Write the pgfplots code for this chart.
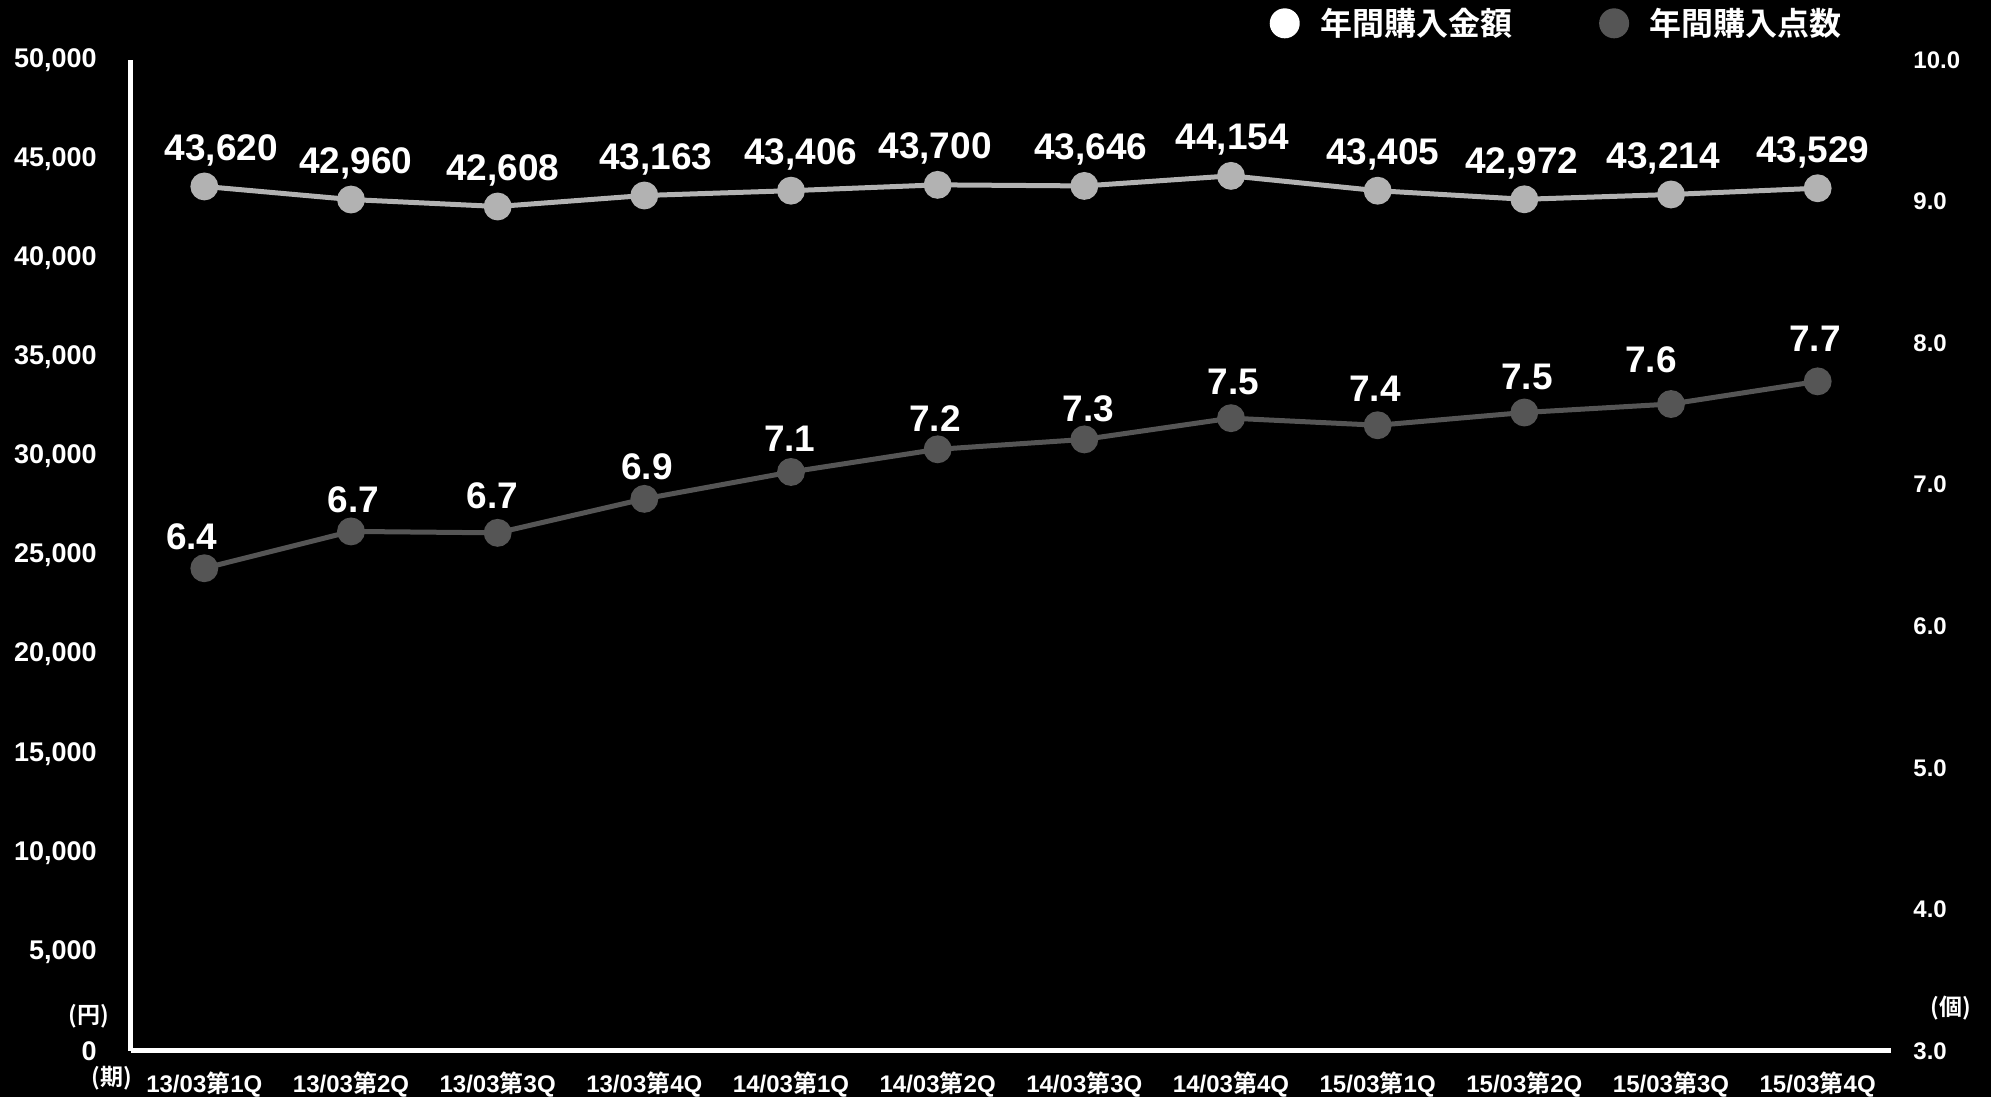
\documentclass[border=0pt]{standalone}
\usepackage{pgfplots}
\usepackage{pgfplotstable}
\pgfplotsset{compat=1.18}
\usepackage{fontspec}
\setmainfont{Liberation Sans}
\newfontfamily\cjk{Noto Sans CJK JP}[BoldFont={Noto Sans CJK JP Bold}]
\definecolor{lightline}{RGB}{178,178,178}
\definecolor{darkline}{RGB}{85,85,85}

\pgfplotstableread{
x y lab xo
0 43620 {43,620} 8.5
1 42960 {42,960} 2.5
2 42608 {42,608} 2.5
3 43163 {43,163} 5.7
4 43406 {43,406} 5
5 43700 {43,700} -1.3
6 43646 {43,646} 3.2
7 44154 {44,154} 0.6
8 43405 {43,405} 2.5
9 42972 {42,972} -1.3
10 43214 {43,214} -3.8
11 43529 {43,529} -2.5
}\amountdata

\pgfplotstableread{
x y lab off xo
0 6.41 6.4 9.5 -6.3
1 6.67 6.7 9.5 1.3
2 6.66 6.7 12 -2.5
3 6.90 6.9 9.5 1.3
4 7.09 7.1 10 -0.6
5 7.25 7.2 9 -1.3
6 7.32 7.3 9 1.9
7 7.47 7.5 12 1.3
8 7.42 7.4 12 -1.3
9 7.51 7.5 11.5 1.3
10 7.57 7.6 16 -10
11 7.73 7.7 15 -1.3
}\countdata

\begin{document}
\begin{tikzpicture}
\fill[black] (-65.5pt,-23pt) rectangle (930pt,525.5pt);
\useasboundingbox (-65.5pt,-23pt) rectangle (930pt,525.5pt);
\begin{axis}[
  at={(0pt,0pt)}, anchor=south west,
  scale only axis, width=880pt, height=495.5pt,
  xmin=-0.5, xmax=11.5, ymin=0, ymax=50000,
  axis x line=bottom, axis y line=left,
  axis line style={white, line width=2.5pt, -},
  major tick length=0pt,
  xtick={0,...,11},
  xticklabels={13/03{\cjk 第}1Q,13/03{\cjk 第}2Q,13/03{\cjk 第}3Q,13/03{\cjk 第}4Q,
               14/03{\cjk 第}1Q,14/03{\cjk 第}2Q,14/03{\cjk 第}3Q,14/03{\cjk 第}4Q,
               15/03{\cjk 第}1Q,15/03{\cjk 第}2Q,15/03{\cjk 第}3Q,15/03{\cjk 第}4Q},
  xticklabel style={text=white, font=\bfseries\fontsize{12}{14}\selectfont, anchor=north, inner sep=0pt, yshift=-10.5pt},
  ytick={0,5000,...,50000},
  scaled y ticks=false,
  yticklabel style={text=white, font=\bfseries\fontsize{13.5}{15}\selectfont, anchor=east, inner sep=0pt, xshift=-17pt},
  /pgf/number format/1000 sep={,},
  /pgf/number format/assume math mode=true,
  clip=false,
  legend columns=2,
  legend style={at={(rel axis cs:0.647,1.037)}, anchor=west, draw=none, fill=none, text=white,
    font=\cjk\bfseries\fontsize{16}{18}\selectfont, inner sep=0pt, outer sep=0pt,
    /tikz/every even column/.append style={column sep=41.4pt}},
]
\addplot[lightline, line width=2.5pt, mark=*, mark size=5.7pt,
  mark options={fill=lightline, draw=none},
  point meta=explicit symbolic, nodes near coords,
  visualization depends on={\thisrow{xo} \as \labelxo},
  every node near coord/.append style={text=white, font=\bfseries\fontsize{18.5}{20}\selectfont, anchor=base, inner sep=0pt, yshift=13pt, xshift=\labelxo pt},
  forget plot] table[x=x, y=y, meta=lab] {\amountdata};
\addlegendimage{draw=none, legend image code/.code={\fill[white, draw=none] (7.5pt,0pt) circle (7.5pt); \path[draw=none, fill=none] (0pt,0pt) rectangle (23.3pt,0.1pt);}}
\addlegendentry{年間購入金額}
\addlegendimage{draw=none, legend image code/.code={\fill[darkline, draw=none] (7.5pt,0pt) circle (7.5pt); \path[draw=none, fill=none] (0pt,0pt) rectangle (23.3pt,0.1pt);}}
\addlegendentry{年間購入点数}
\end{axis}
\begin{axis}[
  at={(0pt,0pt)}, anchor=south west,
  scale only axis, width=880pt, height=495.5pt,
  xmin=-0.5, xmax=11.5, ymin=3, ymax=10,
  axis y line=right, axis x line=none,
  axis line style={draw=none},
  major tick length=0pt,
  xtick=\empty,
  ytick={3,...,10},
  yticklabel style={text=white, font=\bfseries\fontsize{12}{14}\selectfont, anchor=west, inner sep=0pt, xshift=11pt},
  /pgf/number format/fixed,
  /pgf/number format/fixed zerofill,
  /pgf/number format/precision=1,
  /pgf/number format/assume math mode=true,
  clip=false,
]
\addplot[darkline, line width=2.5pt, mark=*, mark size=5.7pt,
  mark options={fill=darkline, draw=none},
  point meta=explicit symbolic, nodes near coords,
  visualization depends on={\thisrow{off} \as \labeloff},
  visualization depends on={\thisrow{xo} \as \labelxo},
  every node near coord/.append style={text=white, font=\bfseries\fontsize{18.5}{20}\selectfont, anchor=base, inner sep=0pt, yshift=\labeloff pt, xshift=\labelxo pt}]
  table[x=x, y=y, meta=lab] {\countdata};
\end{axis}
\node[text=white, font=\cjk\bfseries\fontsize{11.5}{13}\selectfont] at (-21pt,17.5pt) {(円)};
\node[text=white, font=\cjk\bfseries\fontsize{11.5}{13}\selectfont] at (-9.5pt,-13.5pt) {(期)};
\node[text=white, font=\cjk\bfseries\fontsize{11.5}{13}\selectfont] at (910pt,21.5pt) {(個)};
\end{tikzpicture}
\end{document}
